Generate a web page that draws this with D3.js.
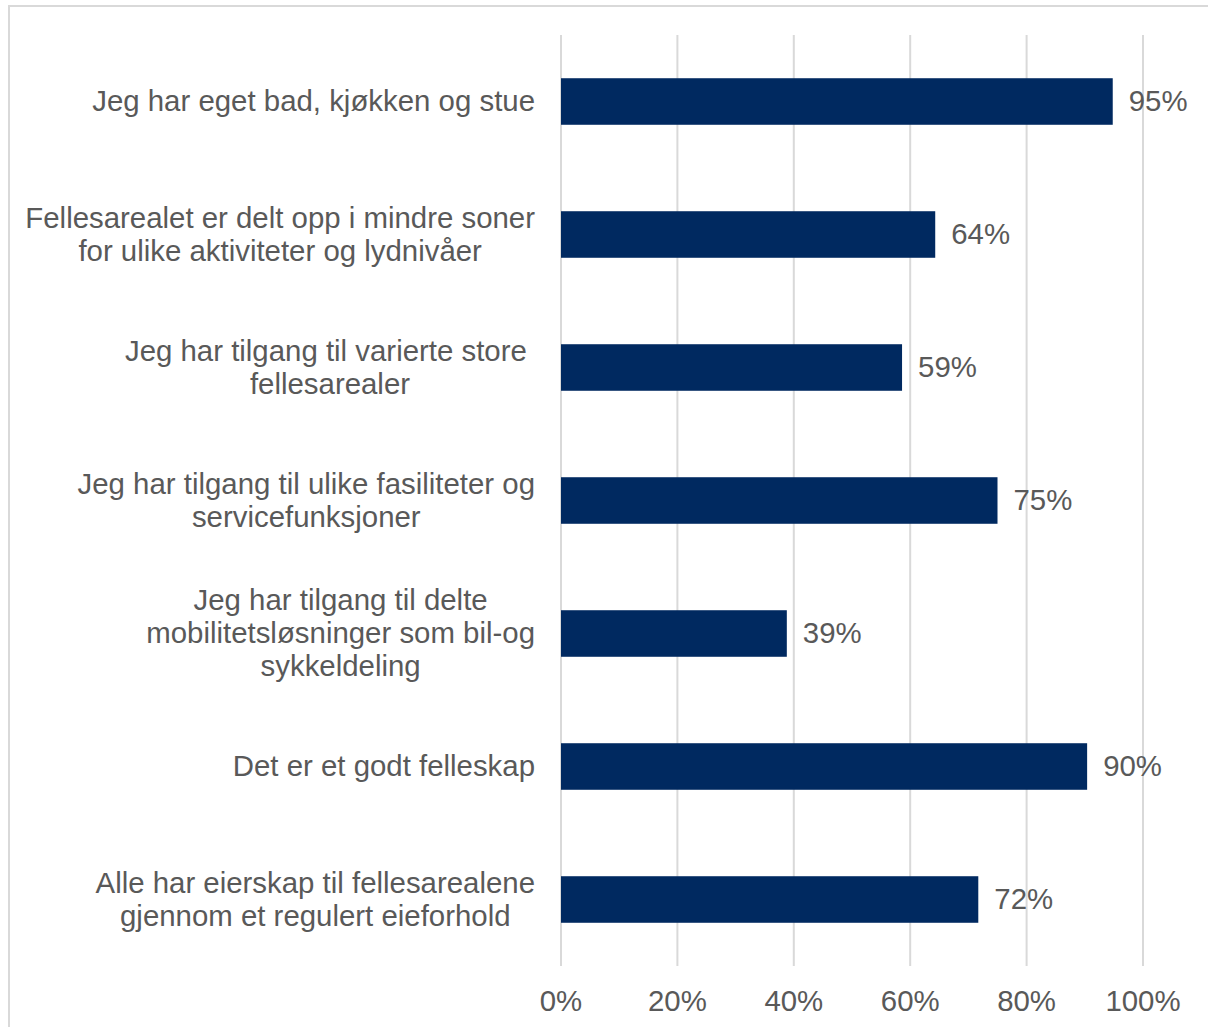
<!DOCTYPE html>
<html>
<head>
<meta charset="utf-8">
<script src="https://cdn.jsdelivr.net/npm/d3@7"></script>
<style>
  html, body { margin: 0; padding: 0; background: #fff; }
  svg { display: block; font-family: "Liberation Sans", Arial, sans-serif; }
</style>
</head>
<body>
<svg id="chart"></svg>
<script>
// Chart data
const categories = [
    ["Jeg har eget bad, kjøkken og stue"],
    ["Fellesarealet er delt opp i mindre soner", "for ulike aktiviteter og lydnivåer"],
    ["Jeg har tilgang til varierte store ", "fellesarealer"],
    ["Jeg har tilgang til ulike fasiliteter og", "servicefunksjoner"],
    ["Jeg har tilgang til delte", "mobilitetsløsninger som bil-og", "sykkeldeling"],
    ["Det er et godt felleskap"],
    ["Alle har eierskap til fellesarealene", "gjennom et regulert eieforhold"]
];
const values = [0.948, 0.643, 0.586, 0.75, 0.388, 0.904, 0.717];
const xTicks = [0, 0.2, 0.4, 0.6, 0.8, 1.0];

const BAR_COLOR = "#002960";
const TEXT_COLOR = "#595959";
const GRID_COLOR = "#d9d9d9";
const FONT_SIZE = 29.4;
const LINE_HEIGHT = 33;

const width = 1208;
const height = 1027;
const margin = { top: 35, right: 65, bottom: 61, left: 561 };

const svg = d3.select("#chart")
    .attr("width", width)
    .attr("height", height);

// outer frame (top and left edges visible)
svg.append("rect")
    .attr("x", 9).attr("y", 6)
    .attr("width", width + 10).attr("height", height + 10)
    .attr("fill", "none")
    .attr("stroke", GRID_COLOR)
    .attr("stroke-width", 2);

const x = d3.scaleLinear()
    .domain([0, 1])
    .range([margin.left, width - margin.right]);

const y = d3.scaleBand()
    .domain(d3.range(categories.length))
    .range([margin.top, height - margin.bottom])
    .paddingInner(0.65)
    .paddingOuter(0.325);

// gridlines
svg.append("g")
    .selectAll("line")
    .data(xTicks)
    .join("line")
    .attr("x1", d => x(d)).attr("x2", d => x(d))
    .attr("y1", margin.top).attr("y2", height - margin.bottom)
    .attr("stroke", GRID_COLOR)
    .attr("stroke-width", 2);

// x axis labels
svg.append("g")
    .selectAll("text")
    .data(xTicks)
    .join("text")
    .attr("x", d => x(d))
    .attr("y", height - margin.bottom + 35)
    .attr("dy", "0.35em")
    .attr("text-anchor", "middle")
    .attr("fill", TEXT_COLOR)
    .attr("font-size", FONT_SIZE)
    .text(d3.format(".0%"));

// bars
svg.append("g")
    .selectAll("rect")
    .data(values)
    .join("rect")
    .attr("x", x(0))
    .attr("y", (d, i) => y(i))
    .attr("width", d => x(d) - x(0))
    .attr("height", y.bandwidth())
    .attr("fill", BAR_COLOR);

// value labels
svg.append("g")
    .selectAll("text")
    .data(values)
    .join("text")
    .attr("x", d => x(d) + 16)
    .attr("y", (d, i) => y(i) + y.bandwidth() / 2)
    .attr("dy", "0.33em")
    .attr("fill", TEXT_COLOR)
    .attr("font-size", FONT_SIZE)
    .text(d3.format(".0%"));

// category labels: block right-aligned, lines centered within block
const labelRight = margin.left - 26;
const labels = svg.append("g");
categories.forEach((lines, i) => {
    const g = labels.append("g");
    const cy = y(i) + y.bandwidth() / 2;
    const texts = g.selectAll("text")
        .data(lines)
        .join("text")
        .attr("y", (d, j) => cy + (j - (lines.length - 1) / 2) * LINE_HEIGHT)
        .attr("dy", "0.33em")
        .attr("fill", TEXT_COLOR)
        .attr("font-size", FONT_SIZE)
        .attr("text-anchor", "middle")
        .style("white-space", "pre")
        .text(d => d);
    let maxW = 0;
    texts.each(function() { maxW = Math.max(maxW, this.getComputedTextLength()); });
    texts.attr("x", labelRight - maxW / 2);
});
</script>
</body>
</html>
